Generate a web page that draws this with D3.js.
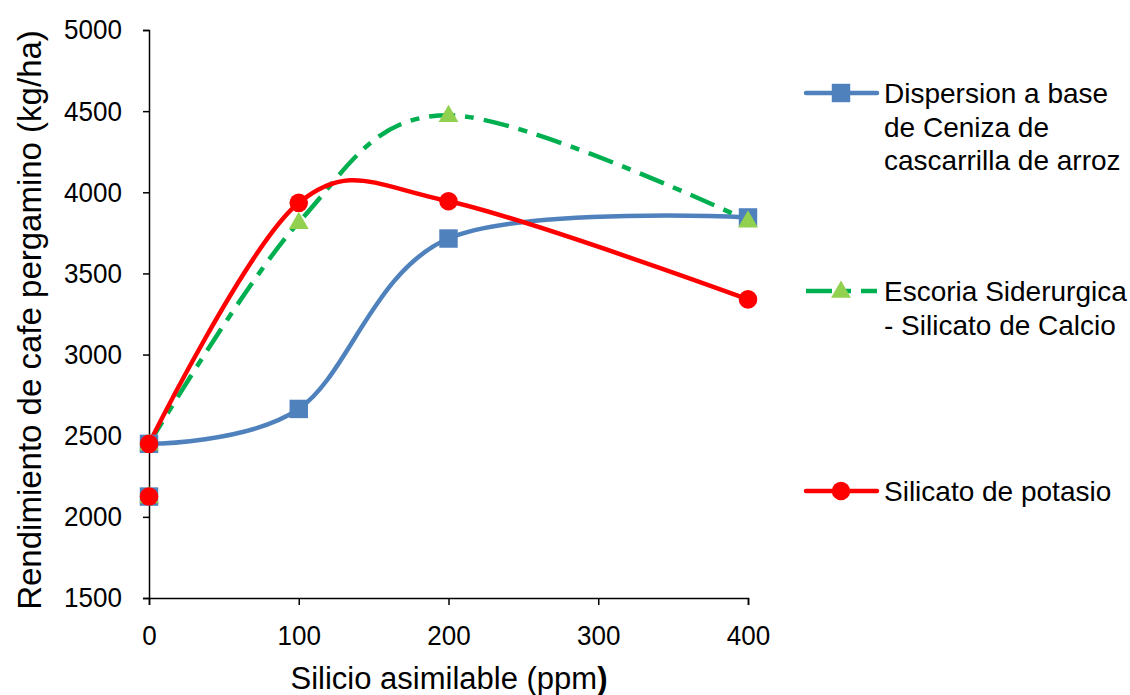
<!DOCTYPE html>
<html><head><meta charset="utf-8">
<script src="https://cdn.jsdelivr.net/npm/d3@7"></script>
<style>
html,body{margin:0;padding:0;background:#fff;}
text{font-family:"Liberation Sans",Arial,sans-serif;fill:#000;}
</style></head>
<body>
<svg id="chart" width="1130" height="695"></svg>
<script>
// ---- data ----
const xValues = [0, 100, 200, 400];
const xTicks = [0, 100, 200, 300, 400];
const yTicks = [1500, 2000, 2500, 3000, 3500, 4000, 4500, 5000];
const dispersionValues = [2450, 2665, 3715, 3845];
const escoriaValues = [2450, 3815, 4475, 3825];
const potasioValues = [2450, 3935, 3945, 3340];
const controlX = [0];
const controlValues = [2125];
const seriesNames = [
  ["Dispersion a base", "de Ceniza de", "cascarrilla de arroz"],
  ["Escoria Siderurgica", "- Silicato de Calcio"],
  ["Silicato de potasio"]
];
const xTitle = "Silicio asimilable (ppm";
const yTitle = "Rendimiento de cafe pergamino (kg/ha)";

const series = [
  {name: seriesNames[0], values: dispersionValues, color: "#4F81BD", marker: "square", dash: null, mfill: "#4F81BD"},
  {name: seriesNames[1], values: escoriaValues, color: "#00B050", marker: "triangle", dash: "26,10,9,10", mfill: "#92D050"},
  {name: seriesNames[2], values: potasioValues, color: "#FF0000", marker: "circle", dash: null, mfill: "#FF0000"}
];

const svg = d3.select("#chart");
const x = d3.scaleLinear().domain([0, 400]).range([149, 748]);
const y = d3.scaleLinear().domain([1500, 5000]).range([598, 30]);

// axes
const fmt = d3.format("d");
const yAxis = d3.axisLeft(y).tickValues(yTicks).tickFormat(fmt).tickSize(6).tickPadding(21);
const gy = svg.append("g").attr("transform", `translate(${x(0)},0)`).call(yAxis);
const xAxis = d3.axisBottom(x).tickValues(xTicks).tickFormat(fmt).tickSize(7).tickPadding(20);
const gx = svg.append("g").attr("transform", `translate(0,${y(1500)})`).call(xAxis);
[gx, gy].forEach(g => {
  g.select(".domain").attr("stroke", "#000").attr("stroke-width", 1.5);
  g.selectAll(".tick line").attr("stroke", "#000").attr("stroke-width", 1.5);
  g.selectAll(".tick text").attr("font-size", 28).attr("font-family", "Liberation Sans, Arial, sans-serif").attr("fill", "#000");
});
// slightly condensed digits as in the reference
gy.selectAll(".tick text").each(function() {
  const t = d3.select(this); const tx = +t.attr("x");
  t.attr("x", 0).attr("transform", `translate(${tx},0) scale(0.93,1)`);
});
gx.selectAll(".tick text").attr("transform", "scale(0.93,1)");

// axis titles
const xt = svg.append("text").attr("x", 449).attr("y", 689).attr("text-anchor", "middle").attr("font-size", 31);
xt.append("tspan").text(xTitle);
xt.append("tspan").attr("font-weight", "bold").text(")");
svg.append("text").attr("transform", "translate(41,320) rotate(-90)").attr("text-anchor", "middle")
  .attr("font-size", 33).text(yTitle);

// marker drawer
const sym = {square: d3.symbolSquare, triangle: d3.symbolTriangle, circle: d3.symbolCircle};
const symSize = {square: 340, triangle: 170, circle: 270};
function marker(g, s, cx, cy) {
  g.append("path").attr("d", d3.symbol().type(sym[s.marker]).size(symSize[s.marker])())
    .attr("transform", `translate(${cx},${cy + (s.marker === "triangle" ? 1 : 0)})`)
    .attr("fill", s.mfill);
}

const line = d3.line().x((d, i) => x(xValues[i])).y(d => y(d)).curve(d3.curveCardinal.tension(0));

// lines
series.forEach(s => {
  svg.append("path").datum(s.values).attr("d", line).attr("fill", "none")
    .attr("stroke", s.color).attr("stroke-width", 4.5).attr("stroke-linecap", s.dash ? "butt" : "round")
    .attr("stroke-linejoin", "round").attr("stroke-dasharray", s.dash);
});
// markers
series.forEach(s => {
  const g = svg.append("g");
  s.values.forEach((v, i) => marker(g, s, x(xValues[i]), y(v)));
  controlValues.forEach((v, i) => marker(g, s, x(controlX[i]), y(v)));
});

// legend
const legendY = [93, 291, 491];
series.forEach((s, k) => {
  const g = svg.append("g");
  g.append("line").attr("x1", 806).attr("x2", 877).attr("y1", legendY[k]).attr("y2", legendY[k])
    .attr("stroke", s.color).attr("stroke-width", 4.5).attr("stroke-dasharray", s.dash)
    .attr("stroke-linecap", s.dash ? "butt" : "round");
  marker(g, s, 841, legendY[k]);
  const t = g.append("text").attr("x", 884).attr("y", legendY[k] + 10).attr("font-size", 28);
  s.name.forEach((ln, j) => t.append("tspan").attr("x", 884).attr("dy", j === 0 ? 0 : 33.5).text(ln));
});
</script>
</body></html>
